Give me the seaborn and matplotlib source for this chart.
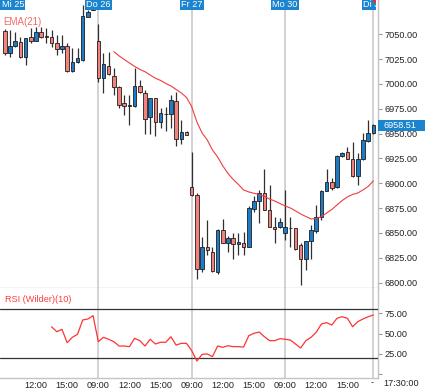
import numpy as np
import pandas as pd
import seaborn as sns
import matplotlib
matplotlib.use("Agg")
import matplotlib.pyplot as plt
from matplotlib.transforms import blended_transform_factory, Bbox, TransformedBbox
from matplotlib.patches import Rectangle, Polygon

sns.set_theme(style="white")
plt.rcParams["font.family"] = ["Liberation Sans", "DejaVu Sans"]

# ---------------- data ----------------
day_labels = ["Mi 25", "Do 26", "Fr 27", "Mo 30", "Di 31"]
day_starts = [0, 18, 36, 54, 71]

opens = [
    7053.3, 7031.5, 7038.2, 7042.6, 7026.8, 7047.0, 7043.6, 7052.6, 7047.6,
    7047.6, 7041.5, 7034.9, 7038.5, 7013.0, 7021.8, 7024.1, 7067.7, 7074.5,
    7043.3, 7005.7, 7018.4, 7008.3, 6997.2, 6980.6, 6978.1, 6978.1, 6998.2,
    6990.6, 6967.0, 6985.6, 6962.0, 6969.4, 6969.4, 6982.3, 6944.6, 6951.9,
    6896.5, 6888.2, 6813.4, 6836.1, 6831.1, 6810.9, 6852.9, 6840.1, 6844.6,
    6838.8, 6840.1, 6836.1, 6873.8, 6882.1, 6889.9, 6873.1, 6856.2, 6855.6,
    6849.6, 6854.6, 6854.6, 6837.8, 6823.4, 6841.9, 6852.2, 6866.3, 6892.2,
    6901.6, 6895.7, 6927.5, 6931.0, 6924.1, 6907.3, 6924.1, 6942.9,
    6950.3,
]
highs = [
    7054.8, 7054.3, 7052.6, 7047.0, 7046.3, 7056.0, 7057.7, 7057.7, 7056.0,
    7054.3, 7049.3, 7049.3, 7041.0, 7035.9, 7035.9, 7079.5, 7074.5, 7075.5,
    7060.1, 7030.9, 7032.5, 7015.8, 6997.9, 6988.9, 6988.9, 7015.8, 7004.0,
    6993.9, 6986.1, 6986.1, 6976.1, 6977.1, 6988.9, 6991.9, 6963.7, 6952.6,
    6931.8, 6890.5, 6845.6, 6863.0, 6836.1, 6853.6, 6863.7, 6846.9, 6850.2,
    6849.6, 6851.2, 6877.1, 6887.2, 6893.2, 6914.1, 6898.2, 6866.3, 6865.1,
    6893.2, 6866.3, 6855.0, 6839.8, 6842.2, 6858.0, 6878.1, 6893.2, 6913.9,
    6905.0, 6928.5, 6931.0, 6936.5, 6941.8, 6930.2, 6950.9, 6963.7,
    6959.7,
]
lows = [
    7029.1, 7027.1, 7037.2, 7025.8, 7019.1, 7041.0, 7043.3, 7046.0, 7041.0,
    7037.5, 7029.1, 7030.9, 7012.3, 7012.3, 7020.8, 7023.1, 7067.1, 7074.5,
    7001.5, 6990.6, 7009.0, 6988.9, 6975.5, 6968.7, 6958.7, 6977.1, 6990.6,
    6949.6, 6949.6, 6947.6, 6955.3, 6952.6, 6955.3, 6937.5, 6939.5, 6948.1,
    6887.2, 6803.3, 6810.9, 6827.8, 6810.9, 6808.6, 6840.1, 6831.1, 6823.4,
    6827.8, 6827.8, 6836.1, 6871.4, 6859.7, 6873.1, 6855.6, 6840.1, 6855.0,
    6842.9, 6836.1, 6832.8, 6797.5, 6812.7, 6823.4, 6849.6, 6863.0, 6891.7,
    6893.2, 6895.2, 6926.5, 6923.9, 6906.6, 6898.2, 6923.4, 6941.8,
    6949.6,
]
closes = [
    7030.9, 7038.2, 7043.6, 7027.4, 7046.0, 7043.6, 7052.0, 7047.0, 7047.3,
    7041.0, 7034.9, 7038.5, 7013.0, 7021.8, 7025.8, 7068.4, 7072.8, 7075.0,
    7005.5, 7019.8, 7009.7, 6997.2, 6978.8, 6978.1, 6978.3, 6998.2, 6991.6,
    6964.7, 6985.6, 6962.0, 6970.4, 6969.6, 6983.8, 6944.6, 6951.1, 6948.6,
    6888.2, 6813.4, 6836.1, 6832.8, 6811.6, 6852.9, 6840.1, 6844.6, 6838.8,
    6841.1, 6836.1, 6874.8, 6882.1, 6889.9, 6873.1, 6855.6, 6853.6, 6860.7,
    6855.6, 6854.8, 6833.3, 6823.4, 6841.9, 6852.4, 6866.3, 6892.2, 6901.6,
    6894.9, 6927.0, 6930.0, 6924.6, 6906.8, 6924.1, 6943.6, 6950.9,
    6958.51,
]

ema_start = 21
ema_values = [
    7032.5, 7028.2, 7024.6, 7021.1, 7017.6, 7014.6, 7012.3, 7009.0, 7005.7,
    7003.5, 7000.5, 6997.9, 6994.4, 6990.9, 6986.4, 6977.1, 6961.7, 6950.6,
    6943.6, 6933.5, 6926.4, 6917.4, 6909.8, 6903.8, 6898.8, 6893.2, 6891.2,
    6889.9, 6888.7, 6886.7, 6884.1, 6882.1, 6879.6, 6877.1, 6875.1, 6872.1,
    6869.0, 6866.5, 6864.0, 6864.5, 6866.3, 6870.0, 6873.6, 6878.1, 6882.6,
    6886.2, 6888.7, 6890.2, 6893.2, 6896.7, 6902.3,
]

rsi_start = 9
rsi_values = [
    58.5, 52.4, 55.3, 38.9, 45.5, 49.2, 66.8, 68.0, 72.1,
    40.1, 45.5, 43.1, 40.1, 34.8, 34.8, 34.0, 44.3, 41.4, 34.8, 43.1, 37.3,
    39.4, 39.4, 46.2, 36.0, 38.1, 38.1,
    29.1, 16.4, 24.6, 25.0, 21.7, 34.8, 33.2, 35.2, 34.0, 34.0, 33.6, 47.5,
    50.4, 52.0, 46.3, 41.4, 41.4, 43.8,
    43.1, 42.2, 37.3, 32.4, 41.4, 45.5, 51.7, 61.9, 63.5, 60.6, 68.9, 70.8,
    68.9, 58.5, 64.7, 68.0, 70.8,
    72.9,
]

time_tick_pos = [6, 12, 18, 24, 30, 36, 42, 48, 54, 60, 66]
time_tick_labels = ["12:00", "15:00", "09:00", "12:00", "15:00", "09:00",
                    "12:00", "15:00", "09:00", "12:00", "15:00"]
price_ticks = [6800, 6825, 6850, 6875, 6900, 6925, 6950, 6975, 7000, 7025, 7050]
rsi_ticks = [0, 25, 50, 75]
rsi_levels = [20, 80]
last_price = closes[-1]

# ---------------- frames ----------------
candles = pd.DataFrame({"x": np.arange(len(opens)), "open": opens, "high": highs,
                        "low": lows, "close": closes})
ema_df = pd.DataFrame({"x": np.arange(ema_start, ema_start + len(ema_values)),
                       "ema": ema_values})
rsi_df = pd.DataFrame({"x": np.arange(rsi_start, rsi_start + len(rsi_values)),
                       "rsi": rsi_values})

# ---------------- figure ----------------
W, H = 425, 391
fig = plt.figure(figsize=(W / 100, H / 100), dpi=100)
ax = fig.add_axes([0, 1 - 288 / H, 378 / W, 288 / H])
ax2 = fig.add_axes([0, 1 - 378 / H, 378 / W, 90 / H], sharex=ax)

BLUE = "#1c7cc8"
PINK = "#f4827c"
GRID = "#d2d2d2"
SPINE = "#c4c4c4"
TXT = "#222222"
LABEL_BLUE = "#1b84cf"

xlim = (-0.94, 71.9)

# day separators
for a in (ax, ax2):
    for j in day_starts[1:]:
        a.axvline(j, color=GRID, lw=1.4, zorder=0)

# candles
up = candles["close"] >= candles["open"]
colors = np.where(up, BLUE, PINK)
body_bottom = np.minimum(candles["open"], candles["close"])
body_h = np.maximum(np.abs(candles["close"] - candles["open"]), 0.6)
ax.vlines(candles["x"], candles["low"], candles["high"], color="#303030",
          lw=0.9, zorder=2)
ax.bar(candles["x"], body_h, bottom=body_bottom, width=0.68, color=colors,
       edgecolor="#1e1e1e", linewidth=0.6, zorder=3)

# EMA
sns.lineplot(data=ema_df, x="x", y="ema", ax=ax, color="#f03c3c", lw=0.8,
             zorder=4)

ax.set_xlim(*xlim)
ax.set_ylim(6794.5, 7084.5)
ax.set_xlabel("")
ax.set_ylabel("")

# RSI
sns.lineplot(data=rsi_df, x="x", y="rsi", ax=ax2, color="#ff3333", lw=0.9,
             zorder=4)
for lv in rsi_levels:
    ax2.axhline(lv, color="#333333", lw=0.9, zorder=3)
ax2.set_ylim(-4.5, 106.1)
ax2.set_xlim(*xlim)
ax2.set_xlabel("")
ax2.set_ylabel("")

# spines / ticks
for a in (ax, ax2):
    for s in ("left", "top"):
        a.spines[s].set_visible(False)
    for s in ("right", "bottom"):
        a.spines[s].set_color(SPINE)
        a.spines[s].set_linewidth(1.0)
    a.yaxis.tick_right()
    a.tick_params(axis="y", direction="out", length=3, width=0.8,
                  color="#9a9a9a", labelsize=6.6, labelcolor=TXT, pad=2)

ax.set_yticks(price_ticks)
ax.set_yticklabels([f"{v:.2f}" for v in price_ticks])
ax.tick_params(axis="x", which="both", bottom=False, labelbottom=False)

ax2.set_yticks(rsi_ticks)
ax2.set_yticklabels(["" if v == 0 else f"{v:.2f}" for v in rsi_ticks])
ax2.set_xticks(time_tick_pos)
ax2.set_xticklabels(time_tick_labels)
ax2.tick_params(axis="x", length=0, labelsize=6.6, labelcolor=TXT, pad=2)

# last price box
tr = blended_transform_factory(ax.transAxes, ax.transData)
box_h = 11 * (ax.get_ylim()[1] - ax.get_ylim()[0]) / 288
ax.add_patch(Rectangle((1.0, last_price - box_h / 2), (W - 378) / 378, box_h,
                       transform=tr, facecolor=LABEL_BLUE, edgecolor="none",
                       clip_on=False, zorder=10))
ax.text(383 / 378, last_price, f"{last_price:.2f}", transform=tr, ha="left",
        va="center", color="white", fontsize=6.6, clip_on=False, zorder=11)

# day labels (clipped a little before the right edge, as in the reference)
clip_bb = TransformedBbox(Bbox([[0, 0], [376 / W, 1]]), fig.transFigure)
trd = blended_transform_factory(ax.transData, ax.transAxes)
for lab, j in zip(day_labels, day_starts):
    if j == 0:
        t = ax.text(1.5 / 378, 1 - 4.6 / 288, lab, transform=ax.transAxes,
                    ha="left", va="center", color="white", fontsize=6.6,
                    zorder=12)
    else:
        t = ax.text(j, 1 - 4.6 / 288, lab, transform=trd, ha="center",
                    va="center", color="white", fontsize=6.6, zorder=12)
    t.set_bbox(dict(boxstyle="square,pad=0.12", facecolor=LABEL_BLUE,
                    edgecolor="none"))
    t.set_clip_on(True)
    t.set_clip_box(clip_bb)

# small red marker at the top-right corner of the last day label
fig.patches.append(Polygon([[371.5 / W, 1.0], [376 / W, 1.0],
                            [376 / W, 1 - 4 / H]], closed=True,
                           transform=fig.transFigure, facecolor="#e83030",
                           edgecolor="none", zorder=20))

# panel titles
ax.text(3 / 378, 1 - 22 / 288, "EMA(21)", transform=ax.transAxes, ha="left",
        va="center", color="#f26a6a", fontsize=7.0, zorder=12)
ax2.text(5 / 378, 1 - 11 / 90, "RSI (Wilder)(10)", transform=ax2.transAxes,
         ha="left", va="center", color="#ff3b3b", fontsize=6.6, zorder=12)

# crosshair time label
fig.text(372 / W, 1 - 383 / H, "-", ha="center", va="center", color=TXT,
         fontsize=6.6)
fig.text(401.5 / W, 1 - 383 / H, "17:30:00", ha="center", va="center",
         color=TXT, fontsize=6.6)

fig.savefig("out.png", dpi=100)
